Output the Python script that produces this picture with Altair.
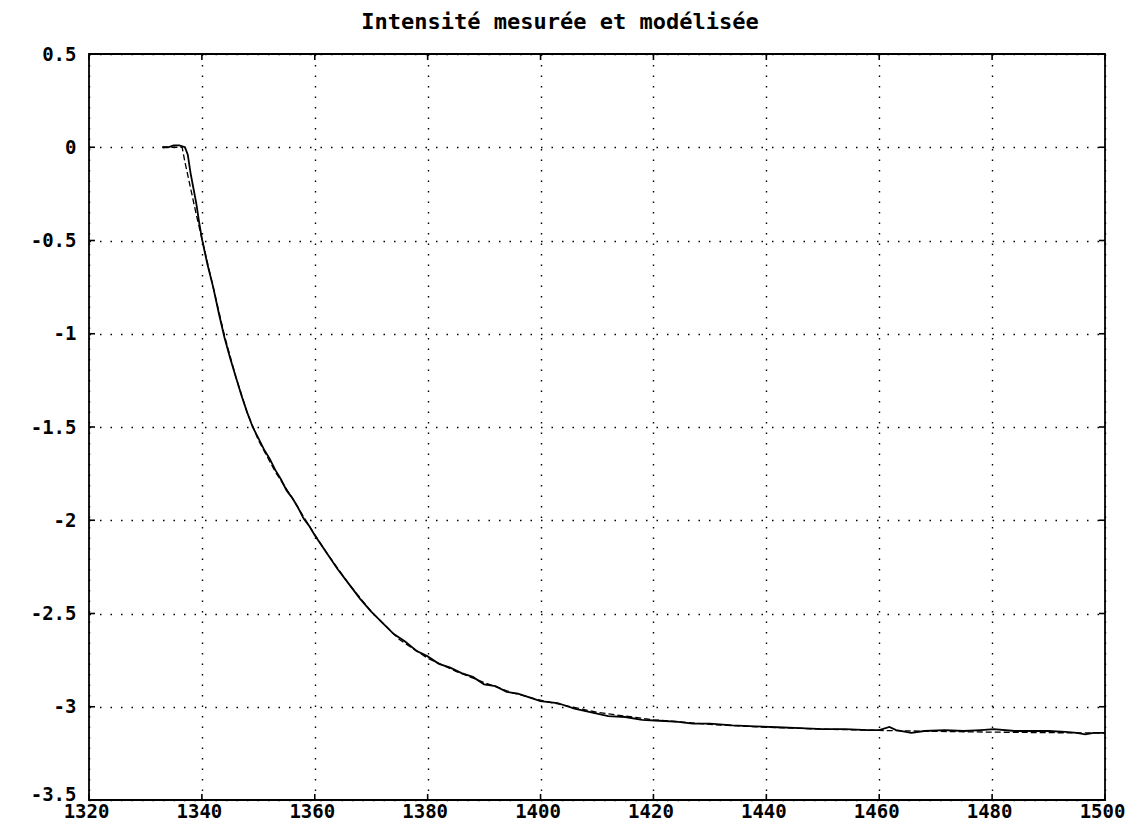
import altair as alt
import pandas as pd

TITLE = "Intensité mesurée et modélisée"

x_ticks = [1320, 1340, 1360, 1380, 1400, 1420, 1440, 1460, 1480, 1500]
y_ticks = [-3.5, -3.0, -2.5, -2.0, -1.5, -1.0, -0.5, 0.0, 0.5]

# Measured intensity (solid, noisy)
meas_x = [1333.0, 1334, 1335, 1336, 1337, 1337.5, 1338, 1338.5, 1339, 1339.5,
          1340, 1340.5, 1341, 1342, 1343, 1344, 1345, 1346, 1347, 1348,
          1349, 1350, 1351, 1352, 1353, 1354, 1355, 1356, 1357, 1358,
          1359, 1360, 1362, 1364, 1366, 1368, 1370, 1372, 1374, 1376,
          1378, 1380, 1382, 1384, 1386, 1388, 1390, 1392, 1394, 1396,
          1398, 1400, 1403, 1406, 1409, 1412, 1415, 1418, 1421, 1424,
          1427, 1430, 1434, 1438, 1442, 1446, 1450, 1454, 1458, 1460,
          1461.8, 1463, 1465.7, 1468, 1471.6, 1475, 1478, 1480.3, 1484, 1487,
          1490, 1493, 1495, 1496.5, 1498, 1500]
meas_y = [0.0, 0.0, 0.01, 0.01, 0.0, -0.04, -0.14, -0.22, -0.30, -0.40,
          -0.49, -0.56, -0.63, -0.75, -0.89, -1.02, -1.13, -1.23, -1.33, -1.42,
          -1.50, -1.56, -1.62, -1.67, -1.73, -1.78, -1.84, -1.88, -1.93, -1.99,
          -2.03, -2.08, -2.17, -2.26, -2.34, -2.42, -2.49, -2.55, -2.61, -2.65,
          -2.70, -2.73, -2.77, -2.79, -2.82, -2.84, -2.88, -2.89, -2.92, -2.93,
          -2.95, -2.97, -2.98, -3.01, -3.03, -3.05, -3.055, -3.07, -3.075, -3.08,
          -3.09, -3.09, -3.10, -3.105, -3.11, -3.115, -3.12, -3.12, -3.125, -3.125,
          -3.108, -3.125, -3.14, -3.13, -3.125, -3.13, -3.125, -3.12, -3.13, -3.13,
          -3.13, -3.135, -3.14, -3.148, -3.14, -3.14]

# Modelled intensity (dashed)
model_x = [1333, 1335, 1336.5, 1337, 1338, 1339, 1340, 1341, 1342, 1344,
           1346, 1348, 1350, 1353, 1356, 1359, 1362, 1366, 1370, 1375,
           1380, 1385, 1390, 1395, 1400, 1410, 1420, 1430, 1440, 1450,
           1460, 1470, 1480, 1490, 1500]
model_y = [0.0, 0.0, 0.0, -0.08, -0.22, -0.36, -0.49, -0.62, -0.75, -1.01,
           -1.23, -1.42, -1.57, -1.74, -1.88, -2.03, -2.17, -2.34, -2.49, -2.64,
           -2.74, -2.81, -2.87, -2.925, -2.965, -3.03, -3.07, -3.095, -3.11, -3.12,
           -3.127, -3.132, -3.136, -3.139, -3.141]

W, H = 1016, 746
FONT = "DejaVu Sans Mono"

meas_df = pd.DataFrame({"x": meas_x, "y": meas_y})
model_df = pd.DataFrame({"x": model_x, "y": model_y})
xt_df = pd.DataFrame({"x": x_ticks})
yt_df = pd.DataFrame({"y": y_ticks})

x_scale = alt.Scale(domain=[1320, 1500], nice=False, zero=False)
y_scale = alt.Scale(domain=[-3.5, 0.5], nice=False, zero=False)

x_axis = alt.Axis(values=x_ticks, title=None, grid=True, gridColor="black",
                  gridDash=[1.5, 9], gridWidth=1.4, ticks=False, domain=False,
                  labelFont=FONT, labelFontWeight="bold", labelFontSize=19,
                  labelColor="black", labelPadding=2, labelOffset=-3,
                  labelFlush=False, labelOverlap=False, format="d")
y_axis = alt.Axis(values=y_ticks, title=None, grid=True, gridColor="black",
                  gridDash=[1.5, 9], gridWidth=1.4, ticks=False, domain=False,
                  labelFont=FONT, labelFontWeight="bold", labelFontSize=19,
                  labelColor="black", labelPadding=13, labelFlush=False,
                  labelOverlap=False,
                  labelBaseline={"condition": {"test": "datum.value < -3.4", "value": "alphabetic"},
                                 "value": "middle"},
                  labelExpr="(datum.value < 0 ? '-' : '') + toString(abs(datum.value))")

X = alt.X("x:Q", scale=x_scale, axis=x_axis)
Y = alt.Y("y:Q", scale=y_scale, axis=y_axis)

meas = alt.Chart(meas_df).mark_line(color="black", strokeWidth=1.8).encode(x=X, y=Y)
model = alt.Chart(model_df).mark_line(color="black", strokeWidth=1.3, strokeDash=[6, 3]).encode(x=X, y=Y)

tick_top = alt.Chart(xt_df).mark_rule(color="black", strokeWidth=1.6).encode(
    x=X, y=alt.value(0), y2=alt.value(6))
tick_bot = alt.Chart(xt_df).mark_rule(color="black", strokeWidth=1.6).encode(
    x=X, y=alt.value(H), y2=alt.value(H - 6))
tick_left = alt.Chart(yt_df).mark_rule(color="black", strokeWidth=1.6).encode(
    y=Y, x=alt.value(0), x2=alt.value(6))
tick_right = alt.Chart(yt_df).mark_rule(color="black", strokeWidth=1.6).encode(
    y=Y, x=alt.value(W), x2=alt.value(W - 6))

chart = alt.layer(meas, model, tick_top, tick_bot, tick_left, tick_right).properties(
    width=W, height=H,
    title=alt.TitleParams(TITLE, font=FONT, fontSize=22, fontWeight="bold",
                          color="black", offset=11, dx=-37),
    padding={"left": 22, "top": 3, "right": 5, "bottom": 0},
).configure(background="white").configure_view(stroke="black", strokeWidth=1.8)

chart.save("out.html", embed_options={"renderer": "svg", "actions": False})
